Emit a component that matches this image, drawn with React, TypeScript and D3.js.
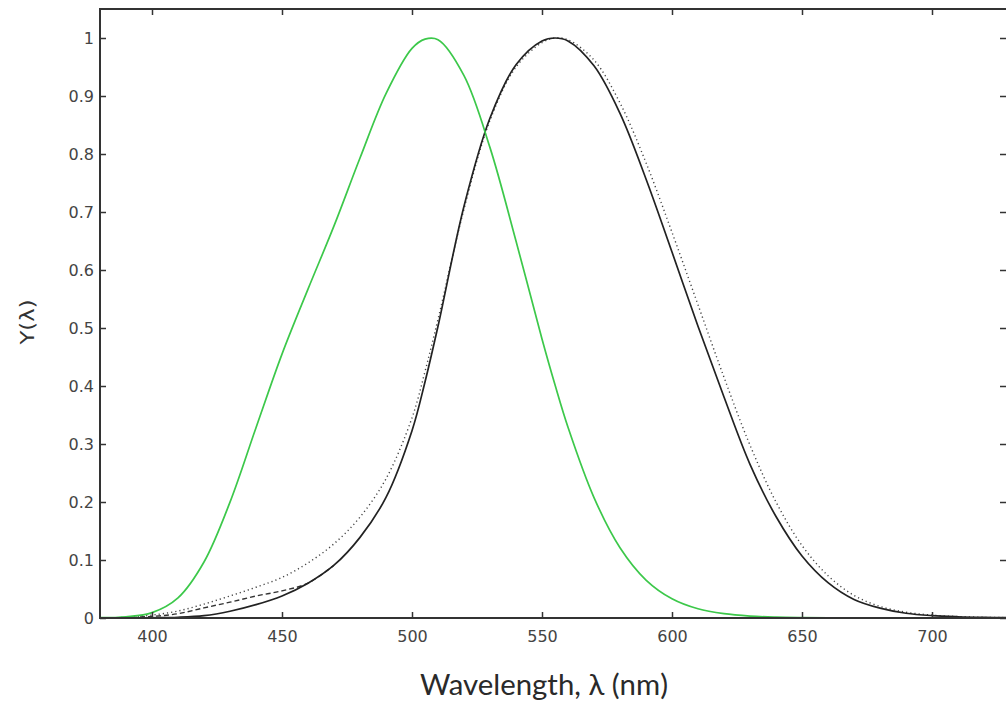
import * as d3 from "d3";
import { useEffect, useRef } from "react";

// wavelength grid (nm)
const wavelengths = [380, 390, 400, 410, 420, 430, 440, 450, 460, 470, 480, 490, 500, 505, 510, 520, 530, 540, 550, 555, 560, 570, 580, 590, 600, 610, 620, 630, 640, 650, 660, 670, 680, 690, 700, 710, 720, 730];

// scotopic (green)
const scotopic = [0.0006, 0.0022, 0.0093, 0.0348, 0.0966, 0.1998, 0.3281, 0.455, 0.567, 0.676, 0.793, 0.904, 0.982, 0.998, 0.997, 0.935, 0.811, 0.65, 0.481, 0.402, 0.3288, 0.2076, 0.1212, 0.0655, 0.0332, 0.0159, 0.0074, 0.0033, 0.0015, 0.0007, 0.0003, 0.0001, 0.0001, 0, 0, 0, 0, 0];

// photopic (solid black)
const photopic = [0.00004, 0.00012, 0.0004, 0.0012, 0.004, 0.0116, 0.023, 0.038, 0.06, 0.091, 0.139, 0.208, 0.323, 0.407, 0.503, 0.71, 0.862, 0.954, 0.995, 1.0, 0.995, 0.952, 0.87, 0.757, 0.631, 0.503, 0.381, 0.265, 0.175, 0.107, 0.061, 0.032, 0.017, 0.0082, 0.0041, 0.0021, 0.001, 0.0005];

// modified (dotted black)
const modified = [0.0003, 0.0012, 0.005, 0.012, 0.024, 0.038, 0.053, 0.07, 0.095, 0.128, 0.174, 0.24, 0.345, 0.425, 0.515, 0.705, 0.858, 0.95, 0.992, 1.0, 0.997, 0.962, 0.888, 0.785, 0.665, 0.54, 0.415, 0.298, 0.2, 0.125, 0.073, 0.039, 0.02, 0.01, 0.005, 0.0025, 0.0012, 0.0006];

// judd-vos correction, short wavelengths only (dashed black)
const juddWl = [380, 390, 400, 410, 420, 430, 440, 450, 460, 470];
const juddVos = [0.0002, 0.0008, 0.0028, 0.0074, 0.0175, 0.0273, 0.0379, 0.0468, 0.06, 0.091];

const xTicks = [400, 450, 500, 550, 600, 650, 700];
const yTicks = [0, 0.1, 0.2, 0.3, 0.4, 0.5, 0.6, 0.7, 0.8, 0.9, 1];

const W = 1006;
const H = 704;

const drawChart = (svgEl) => {
    const svg = d3.select(svgEl);
    svg.selectAll("*").remove();

    const left = 100, right = 1010, top = 9, bottom = 618;
    const x = d3.scaleLinear().domain([380, 730]).range([left, right]);
    const y = d3.scaleLinear().domain([0, 1.05]).range([bottom, top]);

    svg.append("rect").attr("width", W).attr("height", H).attr("fill", "white");

    const plot = svg.append("g");

    const line = (xs, ys) => d3.line()
        .curve(d3.curveCatmullRom)
        .x((d, i) => x(xs[i]))
        .y((d) => y(d))(ys);

    plot.append("path")
        .attr("d", line(wavelengths, modified))
        .attr("fill", "none")
        .attr("stroke", "#444")
        .attr("stroke-width", 1.4)
        .attr("stroke-dasharray", "1.2,3");

    plot.append("path")
        .attr("d", line(juddWl, juddVos))
        .attr("fill", "none")
        .attr("stroke", "#333")
        .attr("stroke-width", 1.4)
        .attr("stroke-dasharray", "5,3");

    plot.append("path")
        .attr("d", line(wavelengths, photopic))
        .attr("fill", "none")
        .attr("stroke", "#222")
        .attr("stroke-width", 1.7);

    plot.append("path")
        .attr("d", line(wavelengths, scotopic))
        .attr("fill", "none")
        .attr("stroke", "#3cc84a")
        .attr("stroke-width", 1.7);

    // box
    svg.append("rect")
        .attr("x", left).attr("y", top)
        .attr("width", right - left).attr("height", bottom - top)
        .attr("fill", "none")
        .attr("stroke", "#333")
        .attr("stroke-width", 2);

    const tickLen = 6;
    const font = "'DejaVu Sans', sans-serif";

    const bottomAxis = d3.axisBottom(x).tickValues(xTicks).tickSize(-tickLen).tickSizeOuter(0).tickPadding(13);
    svg.append("g").attr("transform", `translate(0,${bottom})`).call(bottomAxis)
        .call(g => g.select(".domain").remove());
    const topAxis = d3.axisTop(x).tickValues(xTicks).tickSize(-tickLen).tickSizeOuter(0).tickFormat(() => "");
    svg.append("g").attr("transform", `translate(0,${top})`).call(topAxis)
        .call(g => g.select(".domain").remove());
    const leftAxis = d3.axisLeft(y).tickValues(yTicks).tickSize(-tickLen).tickSizeOuter(0).tickPadding(6)
        .tickFormat(d => d3.format("~g")(d));
    svg.append("g").attr("transform", `translate(${left},0)`).call(leftAxis)
        .call(g => g.select(".domain").remove());
    const rightAxis = d3.axisRight(y).tickValues(yTicks).tickSize(-tickLen).tickSizeOuter(0).tickFormat(() => "");
    svg.append("g").attr("transform", `translate(${right - 4},0)`).call(rightAxis)
        .call(g => g.select(".domain").remove());

    svg.selectAll(".tick line").attr("stroke", "#333").attr("stroke-width", 1.5);
    svg.selectAll(".tick text")
        .attr("fill", "#444")
        .style("font-family", font)
        .style("font-size", "16px");

    svg.append("text")
        .attr("x", 544).attr("y", 695)
        .attr("text-anchor", "middle")
        .attr("textLength", 248)
        .attr("lengthAdjust", "spacingAndGlyphs")
        .style("font-family", "Lato, 'Noto Sans', sans-serif")
        .style("font-size", "29px")
        .attr("fill", "#2a2a2a")
        .text("Wavelength, λ (nm)");

    svg.append("text")
        .attr("transform", "translate(34,322) rotate(-90)")
        .attr("text-anchor", "middle")
        .attr("textLength", 45)
        .attr("lengthAdjust", "spacingAndGlyphs")
        .style("font-family", font)
        .style("font-size", "19px")
        .attr("fill", "#333")
        .text("Y(λ)");
};

export default function App() {
    const ref = useRef(null);

    useEffect(() => {
        if (ref.current) drawChart(ref.current);
    }, []);

    return (
        <div style={{ position: "fixed", left: 0, top: 0, width: W, height: H, overflow: "hidden", background: "white" }}>
            <svg ref={ref} width={W} height={H} style={{ display: "block" }}></svg>
        </div>
    );
}
